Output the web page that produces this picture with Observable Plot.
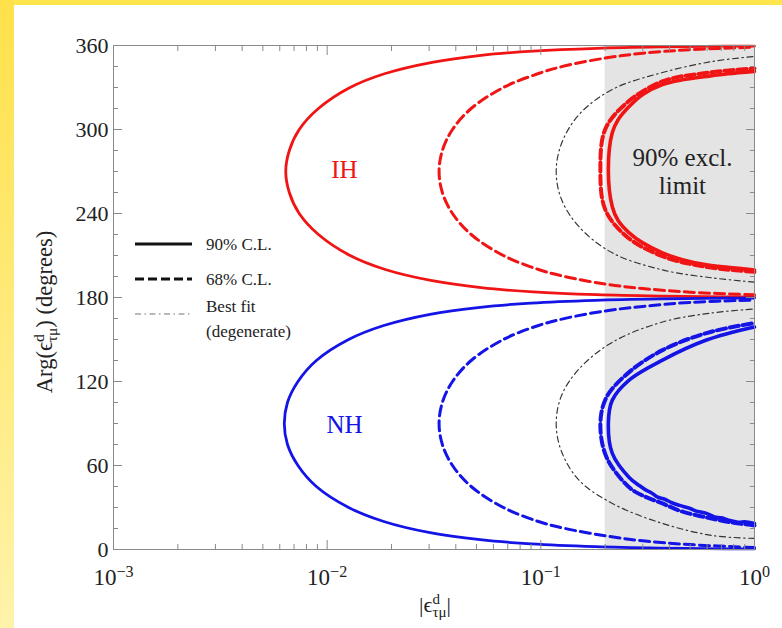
<!DOCTYPE html>
<html><head><meta charset="utf-8">
<script src="https://cdn.jsdelivr.net/npm/d3@7"></script>
<script src="https://cdn.jsdelivr.net/npm/@observablehq/plot@0.6"></script>
<style>
body{margin:0;background:#fff;}
#wrap{position:relative;width:782px;height:628px;overflow:hidden;background:#fff;font-family:"Liberation Serif","Times New Roman",serif;}
#topband{position:absolute;left:0;top:0;width:782px;height:5px;background:#ffe44c;}
#leftband{position:absolute;left:0;top:0;width:14px;height:628px;background:linear-gradient(#ffe14a,#fff3aa);}
#chart{position:absolute;left:0;top:0;}
#chart svg text{font-family:"Liberation Serif","Times New Roman",serif;}
</style></head><body>
<div id="wrap"><div id="topband"></div><div id="leftband"></div><div id="chart"></div></div>
<script>
// ---- axis ticks ----
const xTicks = [0.001, 0.01, 0.1, 1];
const xTickExponents = ["−3", "−2", "−1", "0"];
const xMinorTicks = [0.002,0.003,0.004,0.005,0.006,0.007,0.008,0.009,
  0.02,0.03,0.04,0.05,0.06,0.07,0.08,0.09,0.2,0.3,0.4,0.5,0.6,0.7,0.8,0.9];
const yTicks = [0, 60, 120, 180, 240, 300, 360];
const yMinorTicks = [15,30,45,75,90,105,135,150,165,195,210,225,255,270,285,315,330,345];
const exclusionRange = [0.2, 1];

// ---- contours: |eps| values and Arg values (degrees) ----
// IH (red) 90% C.L. outer
const ihSolidOuterX = [1,0.73,0.37,0.183,0.092,0.0525,0.031,0.0187,0.0128,0.0091,0.0074,0.00665,0.0064,0.00665,0.0074,0.0091,0.0128,0.0187,0.031,0.0525,0.092,0.183,0.37,0.73,1];
const ihSolidOuterY = [180.4,180.5,181,182,184,187,192,200,210,225,240,255,270,285,300,315,330,340,348,353,356,358,359,359.5,359.6];
// IH 68% C.L. outer
const ihDashOuterX = [1,0.5,0.3,0.2,0.13,0.0975,0.0668,0.0472,0.0386,0.0346,0.0334,0.0346,0.0386,0.0472,0.0668,0.0975,0.13,0.2,0.3,0.5,1];
const ihDashOuterY = [181.9,183.8,186.4,189.6,194.9,200,210,225,240,255,270,285,300,315,330,340,345.5,351,354.5,357,358.8];
// IH best fit
const ihBestX = [1,0.635,0.371,0.216,0.151,0.125,0.118,0.125,0.151,0.216,0.371,0.635,1];
const ihBestY = [191,194,199.7,211.9,230.5,250,270,290,310.7,328.6,340.7,348.6,352.2];
// IH 90% excl. (inner)
const ihSolidInnerX = [1,0.75,0.596,0.46,0.371,0.3,0.259,0.23,0.216,0.207,0.216,0.23,0.259,0.3,0.371,0.46,0.596,0.75,1];
const ihSolidInnerY = [199.7,201.5,203.3,207,211.9,219,226.2,235,244.8,271.3,297.8,307,316.4,325,332.1,335.5,337.9,339.8,341.5];
const ihDashInnerX = [1,0.6,0.37,0.25,0.2,0.19,0.2,0.25,0.37,0.6,1];
const ihDashInnerY = [198.3,201.8,209.5,224,243,271.5,300,318.5,334.3,340.5,343.6];

// NH (blue) 90% C.L. outer
const nhSolidOuterX = [1,0.73,0.36,0.18,0.09,0.052,0.0303,0.0184,0.0126,0.0089,0.0073,0.00652,0.0063,0.00652,0.0073,0.0089,0.0126,0.0184,0.0303,0.052,0.09,0.18,0.36,0.73,1];
const nhSolidOuterY = [0.4,0.5,1,2,4,7,12,20,30,45,60,75,90,105,120,135,150,160,168,173,176,178,179,179.5,179.6];
// NH 68% C.L. outer
const nhDashOuterX = [1,0.5,0.3,0.2,0.13,0.0975,0.0668,0.0472,0.0386,0.0346,0.0334,0.0346,0.0386,0.0472,0.0668,0.0975,0.13,0.2,0.3,0.5,1];
const nhDashOuterY = [1.4,3.5,6.2,9.8,15,20,30,45,60,75,90,105,120,135,150,160,165.1,170.4,173.6,176.5,178.2];
// NH best fit
const nhBestX = [1,0.635,0.371,0.216,0.151,0.125,0.118,0.125,0.151,0.216,0.371,0.635,1];
const nhBestY = [7.9,10,18.6,32.9,49.4,70,90,110,129,148,162.5,169,171.8];
// NH 90% excl. (inner)
const nhSolidInnerX = [1,0.9,0.85,0.764,0.7,0.65,0.596,0.53,0.5,0.446,0.41,0.38,0.35,0.33,0.312,0.29,0.259,0.216,0.207,0.216,0.259,0.371,0.596,1];
const nhSolidInnerY = [18.6,19.8,19.4,20.8,22.6,23.2,25.8,27.6,29.3,31.5,33.4,35.9,37.6,40.4,42.2,45.5,51.5,68.7,90.2,106.7,121,135.3,149.6,158.9];
const nhDashInnerX = [1,0.8,0.596,0.45,0.371,0.3,0.259,0.203,0.19,0.203,0.259,0.371,0.596,1];
const nhDashInnerY = [17.2,19.1,22.9,27.5,32.9,38.5,44.4,65.9,90,108.8,126.7,142.4,154.6,161.8];

// ---- annotations ----
const annText = ["IH", "NH", "90% excl.\nlimit"];
const annX = [0.01205, 0.01205, 0.46];
const annY = [272, 90, 270.5];

const legendLabels = ["90% C.L.", "68% C.L.", "Best fit", "(degenerate)"];

// ---- build tables ----
function rows(id, xs, ys) { return xs.map((x, i) => ({id, x, y: ys[i]})); }
const redSolid = rows("ihSO", ihSolidOuterX, ihSolidOuterY);
const redSolidInner = rows("ihSI", ihSolidInnerX, ihSolidInnerY);
const redDash = rows("ihDO", ihDashOuterX, ihDashOuterY);
const redDashInner = rows("ihDI", ihDashInnerX, ihDashInnerY);
const blueSolid = rows("nhSO", nhSolidOuterX, nhSolidOuterY);
const blueSolidInner = rows("nhSI", nhSolidInnerX, nhSolidInnerY);
const blueDash = rows("nhDO", nhDashOuterX, nhDashOuterY);
const blueDashInner = rows("nhDI", nhDashInnerX, nhDashInnerY);
const bestFit = [...rows("ihB", ihBestX, ihBestY), ...rows("nhB", nhBestX, nhBestY)];
const annotations = annText.map((t, i) => ({t, x: annX[i], y: annY[i]}));

const RED = "#f01414", BLUE = "#1414e6";
const AX = "#8a8a8a";
const SERIF = "Liberation Serif";
const curve = "catmull-rom";

const plot = Plot.plot({
  width: 782, height: 628,
  marginLeft: 113, marginRight: 28, marginTop: 45, marginBottom: 79,
  style: {background: "transparent", fontFamily: "'Liberation Serif', serif", color: "#222", overflow: "visible"},
  x: {type: "log", domain: [1e-3, 1]},
  y: {domain: [0, 360]},
  marks: [
    Plot.rect([exclusionRange], {x1: d => d[0], x2: d => d[1], y1: () => 0, y2: () => 360, fill: "#e4e4e4"}),
    Plot.line(bestFit, {x: "x", y: "y", z: "id", curve, stroke: "#333", strokeWidth: 1.15, strokeDasharray: "6,3.5,1.5,3.5"}),
    Plot.line(redSolid, {x: "x", y: "y", z: "id", curve, stroke: RED, strokeWidth: 2.8}),
    Plot.line(redDash, {x: "x", y: "y", z: "id", curve, stroke: RED, strokeWidth: 3, strokeDasharray: "10,5"}),
    Plot.line(blueSolid, {x: "x", y: "y", z: "id", curve, stroke: BLUE, strokeWidth: 2.8}),
    Plot.line(blueDash, {x: "x", y: "y", z: "id", curve, stroke: BLUE, strokeWidth: 3, strokeDasharray: "10,5"}),
    Plot.line(redDashInner, {x: "x", y: "y", z: "id", curve, stroke: RED, strokeWidth: 4, strokeDasharray: "9,4"}),
    Plot.line(redSolidInner, {x: "x", y: "y", z: "id", curve, stroke: RED, strokeWidth: 3.6}),
    Plot.line(blueDashInner, {x: "x", y: "y", z: "id", curve, stroke: BLUE, strokeWidth: 4, strokeDasharray: "9,4"}),
    Plot.line(blueSolidInner, {x: "x", y: "y", z: "id", curve, stroke: BLUE, strokeWidth: 3.6}),
    Plot.text(annotations, {x: "x", y: "y", text: "t", fontSize: 25, lineHeight: 1.15, fontFamily: SERIF,
      fill: (d, i) => i === 0 ? RED : i === 1 ? BLUE : "#222"}),
    Plot.frame({stroke: AX, strokeWidth: 1}),
    Plot.axisX(xTicks, {anchor: "bottom", tickSize: -9, tickPadding: 28, stroke: AX, fill: "#222", fontSize: 23, fontFamily: SERIF,
      tickFormat: d => "10^" + xTickExponents[xTicks.indexOf(d)], label: null}),
    Plot.axisX(xTicks, {anchor: "top", tickSize: -9, stroke: AX, tickFormat: () => "", label: null}),
    Plot.axisX(xMinorTicks, {anchor: "bottom", tickSize: -5, stroke: AX, tickFormat: () => "", label: null}),
    Plot.axisX(xMinorTicks, {anchor: "top", tickSize: -5, stroke: AX, tickFormat: () => "", label: null}),
    Plot.axisY(yTicks, {anchor: "left", tickSize: -9, tickPadding: 14, stroke: AX, fill: "#222", fontSize: 22, fontFamily: SERIF, label: null}),
    Plot.axisY(yTicks, {anchor: "right", tickSize: -9, stroke: AX, tickFormat: () => "", label: null}),
    Plot.axisY(yMinorTicks, {anchor: "left", tickSize: -5, stroke: AX, tickFormat: () => "", label: null}),
    Plot.axisY(yMinorTicks, {anchor: "right", tickSize: -5, stroke: AX, tickFormat: () => "", label: null})
  ]
});
document.getElementById("chart").appendChild(plot);

const ns = "http://www.w3.org/2000/svg";
// superscript exponents on x tick labels
plot.querySelectorAll("text").forEach(el => {
  const s = el.textContent;
  if (s.startsWith("10^")) {
    el.textContent = "";
    const b = document.createElementNS(ns, "tspan"); b.textContent = "10";
    const e = document.createElementNS(ns, "tspan"); e.textContent = s.slice(3);
    e.setAttribute("dy", "-0.5em"); e.setAttribute("font-size", "70%");
    el.appendChild(b); el.appendChild(e);
  }
});

const svg = d3.select(plot);
// y-axis label
const yl = svg.append("text").attr("transform", "translate(52,312) rotate(-90)")
  .attr("text-anchor", "middle").attr("font-size", 22.5).attr("fill", "#222").attr("font-family", SERIF);
yl.append("tspan").text("Arg(ϵ");
yl.append("tspan").attr("dy", -8).attr("font-size", 15.5).text("d");
yl.append("tspan").attr("dx", -8).attr("dy", 13).attr("font-size", 15.5).text("τμ");
yl.append("tspan").attr("dy", -5).text(") (degrees)");
// x-axis label
const xl = svg.append("text").attr("x", 435).attr("y", 612)
  .attr("text-anchor", "middle").attr("font-size", 22).attr("fill", "#222").attr("font-family", SERIF);
xl.append("tspan").text("|ϵ");
xl.append("tspan").attr("dy", -8).attr("font-size", 15).text("d");
xl.append("tspan").attr("dx", -7.5).attr("dy", 13).attr("font-size", 15).text("τμ");
xl.append("tspan").attr("dy", -5).text("|");

// legend
const lg = svg.append("g").attr("font-size", 17).attr("fill", "#222").attr("text-anchor", "start").attr("font-family", SERIF);
const legendStyles = [
  {y: 244, sw: 3, dash: null, stroke: "#111"},
  {y: 279, sw: 3.2, dash: "9,4", stroke: "#111"},
  {y: 314, sw: 1.1, dash: "6,3.5,1.5,3.5", stroke: "#777"}
];
legendStyles.forEach(s => {
  lg.append("line").attr("x1", 135).attr("x2", 192).attr("y1", s.y).attr("y2", s.y)
    .attr("stroke", s.stroke).attr("stroke-width", s.sw).attr("stroke-dasharray", s.dash);
});
const legendYs = [244, 279, 306, 331];
legendLabels.forEach((t, i) => {
  lg.append("text").attr("x", 206).attr("y", legendYs[i]).attr("dy", "0.35em").attr("text-anchor", "start").text(t);
});
</script>
</body></html>
